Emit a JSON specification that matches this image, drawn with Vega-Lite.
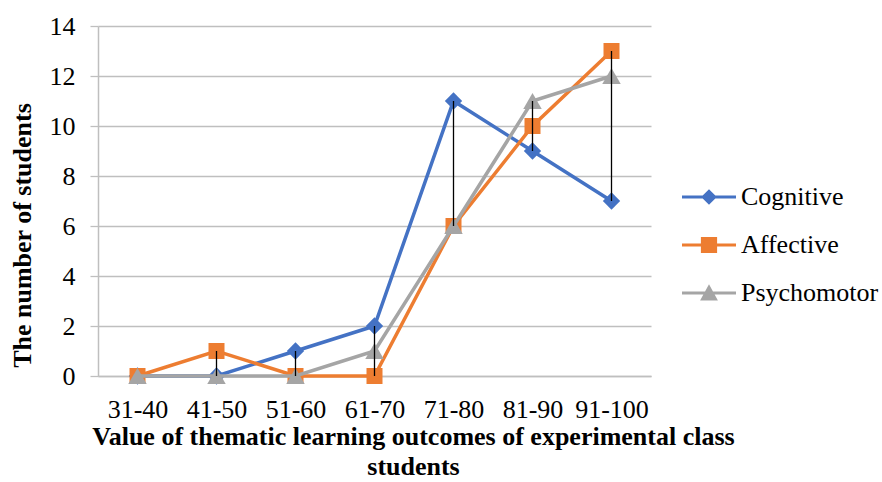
{
  "$schema": "https://vega.github.io/schema/vega-lite/v6.json",
  "autosize": "none",
  "width": 553,
  "height": 350,
  "padding": {"left": 98, "top": 26, "right": 231, "bottom": 106},
  "background": "white",
  "config": {
    "view": {"stroke": null},
    "font": "Liberation Serif",
    "axis": {"labelFont": "Liberation Serif", "titleFont": "Liberation Serif", "labelColor": "black", "titleColor": "black"},
    "legend": {"labelFont": "Liberation Serif", "labelColor": "black"}
  },
  "data": {
    "values": [
      {"range": "31-40", "series": "Cognitive", "count": 0},
      {"range": "41-50", "series": "Cognitive", "count": 0},
      {"range": "51-60", "series": "Cognitive", "count": 1},
      {"range": "61-70", "series": "Cognitive", "count": 2},
      {"range": "71-80", "series": "Cognitive", "count": 11},
      {"range": "81-90", "series": "Cognitive", "count": 9},
      {"range": "91-100", "series": "Cognitive", "count": 7},
      {"range": "31-40", "series": "Affective", "count": 0},
      {"range": "41-50", "series": "Affective", "count": 1},
      {"range": "51-60", "series": "Affective", "count": 0},
      {"range": "61-70", "series": "Affective", "count": 0},
      {"range": "71-80", "series": "Affective", "count": 6},
      {"range": "81-90", "series": "Affective", "count": 10},
      {"range": "91-100", "series": "Affective", "count": 13},
      {"range": "31-40", "series": "Psychomotor", "count": 0},
      {"range": "41-50", "series": "Psychomotor", "count": 0},
      {"range": "51-60", "series": "Psychomotor", "count": 0},
      {"range": "61-70", "series": "Psychomotor", "count": 1},
      {"range": "71-80", "series": "Psychomotor", "count": 6},
      {"range": "81-90", "series": "Psychomotor", "count": 11},
      {"range": "91-100", "series": "Psychomotor", "count": 12}
    ]
  },
  "encoding": {
    "x": {
      "field": "range",
      "type": "nominal",
      "scale": {"type": "point", "padding": 0.5, "domain": ["31-40", "41-50", "51-60", "61-70", "71-80", "81-90", "91-100"]},
      "axis": {
        "labelAngle": 0,
        "labelFontSize": 26,
        "labelPadding": 20,
        "ticks": false,
        "tickSize": 0,
        "domainColor": "#BFBFBF",
        "domainWidth": 1.3,
        "grid": false,
        "title": ["Value of thematic learning outcomes of experimental class", "students"],
        "titleFontSize": 26,
        "titleFontWeight": "bold",
        "titleX": 315,
        "titleY": 68,
        "titleBaseline": "alphabetic",
        "titleLineHeight": 30,
        "titleAlign": "center"
      }
    },
    "y": {
      "field": "count",
      "type": "quantitative",
      "scale": {"domain": [0, 14], "nice": false},
      "axis": {
        "values": [0, 2, 4, 6, 8, 10, 12, 14],
        "labelFontSize": 26,
        "labelPadding": 15,
        "tickSize": 8,
        "tickColor": "#BFBFBF",
        "tickWidth": 1.3,
        "domainColor": "#BFBFBF",
        "domainWidth": 1.5,
        "gridColor": "#BFBFBF",
        "gridWidth": 1.3,
        "title": "The number of students",
        "titleFontSize": 26,
        "titleFontWeight": "bold",
        "titleX": -76,
        "titleY": 209,
        "titleAngle": -90,
        "titleAlign": "center",
        "titleBaseline": "middle"
      }
    }
  },
  "layer": [
    {
      "transform": [{"filter": "datum.series === 'Cognitive'"}],
      "mark": {"type": "line", "strokeWidth": 3.5, "color": "#4472C4", "point": {"shape": "diamond", "size": 300, "filled": true, "opacity": 1, "color": "#4472C4"}}
    },
    {
      "transform": [{"filter": "datum.series === 'Affective'"}],
      "mark": {"type": "line", "strokeWidth": 3.5, "color": "#ED7D31", "point": {"shape": "square", "size": 256, "filled": true, "opacity": 1, "color": "#ED7D31"}}
    },
    {
      "transform": [{"filter": "datum.series === 'Psychomotor'"}],
      "mark": {"type": "line", "strokeWidth": 3.5, "color": "#A5A5A5", "point": {"shape": "triangle-up", "size": 340, "filled": true, "opacity": 1, "color": "#A5A5A5"}}
    },
    {
      "mark": {"type": "rule", "color": "black", "strokeWidth": 1.3},
      "encoding": {
        "y": {"aggregate": "min", "field": "count", "type": "quantitative"},
        "y2": {"aggregate": "max", "field": "count"}
      }
    },
    {
      "transform": [{"filter": "datum.count < 0"}],
      "mark": {"type": "point", "filled": true, "opacity": 1},
      "encoding": {
        "color": {
          "field": "series", "type": "nominal",
          "scale": {"domain": ["Cognitive", "Affective", "Psychomotor"], "range": ["#4472C4", "#ED7D31", "#A5A5A5"]},
          "legend": {"title": null, "orient": "none", "legendX": 584, "legendY": 144, "labelFontSize": 26, "labelOffset": 5, "symbolSize": 2916, "symbolStrokeWidth": 0, "rowPadding": 8, "padding": 0, "symbolOpacity": 1}
        },
        "shape": {
          "field": "series", "type": "nominal",
          "scale": {
            "domain": ["Cognitive", "Affective", "Psychomotor"],
            "range": [
              "M-1,-0.06H1V0.06H-1Z M0,-0.29L0.29,0L0,0.29L-0.29,0Z",
              "M-1,-0.06H1V0.06H-1Z M-0.3,-0.3H0.3V0.3H-0.3Z",
              "M-1,-0.06H1V0.06H-1Z M0,-0.32L0.33,0.28L-0.33,0.28Z"
            ]
          },
          "legend": {"title": null, "orient": "none", "legendX": 584, "legendY": 144, "labelFontSize": 26, "labelOffset": 5, "symbolSize": 2916, "symbolStrokeWidth": 0, "rowPadding": 8, "padding": 0, "symbolOpacity": 1}
        }
      }
    }
  ]
}
